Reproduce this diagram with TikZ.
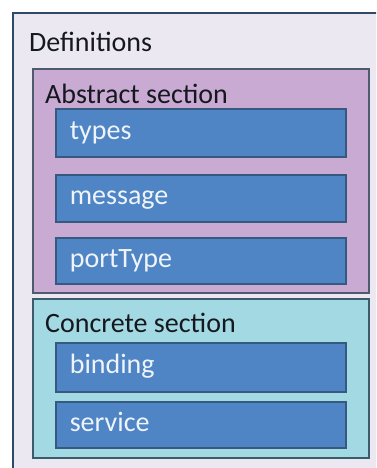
\documentclass[tikz,border=0pt]{standalone}
\usepackage{fontspec}
\setmainfont{Carlito}
\definecolor{pagebg}{HTML}{FFFFFF}
\definecolor{defbg}{HTML}{ECE8F1}
\definecolor{defline}{HTML}{2E4A66}
\definecolor{absbg}{HTML}{C9AAD3}
\definecolor{absline}{HTML}{4E5A6E}
\definecolor{conbg}{HTML}{A3D9E2}
\definecolor{conline}{HTML}{3C5C6C}
\definecolor{itembg}{HTML}{4F85C5}
\definecolor{itemline}{HTML}{35597F}
\definecolor{itemtext}{HTML}{EEF4FA}
\definecolor{labeltext}{HTML}{16181F}
\tikzset{
  sectionbox/.style={draw, line width=1.6pt, rectangle, inner sep=0pt, anchor=north west},
  title/.style={anchor=base west, inner sep=0pt, text=labeltext, font=\fontsize{28}{32}\selectfont},
  itembox/.style={draw=itemline, fill=itembg, line width=1.6pt, rectangle, anchor=north west,
    minimum width=290pt, align=left, text width=262pt, inner xsep=14pt, inner ysep=0pt,
    text=itemtext, font=\fontsize{28}{32}\selectfont, text height=19pt, text depth=6pt}
}
\begin{document}
\begin{tikzpicture}[x=1pt, y=-1pt]
  \useasboundingbox (0,0) rectangle (376,468);
  \clip (0,0) rectangle (376,468);
  \fill[pagebg] (0,0) rectangle (376,468);
  % outer definitions frame, running past the right and bottom edges
  \node[sectionbox, draw=defline, fill=defbg, minimum width=380pt, minimum height=470pt] (defs) at (12,12) {};
  \node[title] (defsTitle) at (29,52) {Definitions};
  % abstract section
  \node[sectionbox, draw=absline, fill=absbg, minimum width=336pt, minimum height=224pt] (abs) at (32,68) {};
  \node[title] (absTitle) at (45,103) {Abstract section};
  \node[itembox, minimum height=48pt] (types) at (55,108) {types};
  \node[itembox, minimum height=47pt] (message) at (55,174) {message};
  \node[itembox, minimum height=46pt] (porttype) at (55,237) {portType};
  % concrete section
  \node[sectionbox, draw=conline, fill=conbg, minimum width=336pt, minimum height=159pt] (con) at (32,298) {};
  \node[title] (conTitle) at (45,332) {Concrete section};
  \node[itembox, minimum height=49pt] (binding) at (55,342) {binding};
  \node[itembox, minimum height=46pt] (service) at (55,401) {service};
\end{tikzpicture}
\end{document}
